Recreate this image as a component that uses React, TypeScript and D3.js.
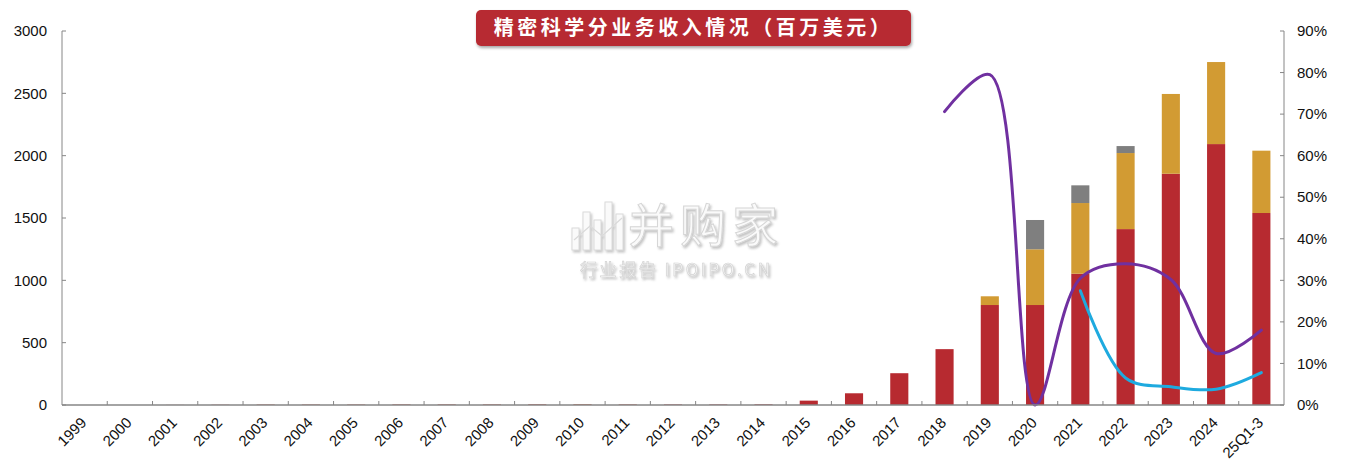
import React from "react";
import * as d3 from "d3";

const categories = ["1999","2000","2001","2002","2003","2004","2005","2006","2007","2008","2009","2010","2011","2012","2013","2014","2015","2016","2017","2018","2019","2020","2021","2022","2023","2024","25Q1-3"];
const seriesRed = [0,0,1,2,3,3,3,4,4,4,5,5,4,4,4,5,35,94,255,448,802,802,1053,1411,1855,2093,1540];
const seriesOrange = [0,0,0,0,1,1,1,1,1,1,1,2,1,0,0,0,0,0,0,0,70,447,567,610,640,658,500];
const seriesGray = [0,0,0,0,0,0,0,0,0,0,0,0,0,0,0,0,0,0,0,0,0,235,142,56,0,0,0];
const linePurple: (number | null)[] = [null,null,null,null,null,null,null,null,null,null,null,null,null,null,null,null,null,null,null,70.6,79.5,0,30.5,34.0,30.2,12.4,18.0];
const lineCyan: (number | null)[] = [null,null,null,null,null,null,null,null,null,null,null,null,null,null,null,null,null,null,null,null,null,null,27.5,6.5,4.4,3.8,7.8];
const leftTicks = [0,500,1000,1500,2000,2500,3000];
const rightTicks = [0,10,20,30,40,50,60,70,80,90];
const title = "精密科学分业务收入情况（百万美元）";

const W = 1353, H = 469;
const L = 62, R = 1284, T = 31, B = 405;
const RED = "#B72A30", ORANGE = "#D29B33", GRAY = "#7F7F7F", PURPLE = "#7030A0", CYAN = "#1EAADF";
const AXIS = "#868686";

export default function App() {
  const x = d3.scaleBand<string>().domain(categories).range([L, R]).paddingInner(0.6).paddingOuter(0.3);
  const xb = d3.scaleBand<string>().domain(categories).range([L, R]);
  const yL = d3.scaleLinear().domain([0, 3000]).range([B, T]);
  const yR = d3.scaleLinear().domain([0, 90]).range([B, T]);
  const stacked = categories.map((c, i) => {
    const a = seriesRed[i], b = seriesOrange[i], g = seriesGray[i];
    return [
      { c, y0: 0, y1: a, col: RED },
      { c, y0: a, y1: a + b, col: ORANGE },
      { c, y0: a + b, y1: a + b + g, col: GRAY },
    ];
  });
  const cx = (c: string) => (xb(c) as number) + xb.bandwidth() / 2;
  const mkLine = (vals: (number | null)[]) => {
    const pts = categories.map((c, i) => [c, vals[i]] as [string, number | null]).filter(d => d[1] !== null) as [string, number][];
    return d3.line<[string, number]>().x(d => cx(d[0])).y(d => yR(d[1])).curve(d3.curveCatmullRom.alpha(0.5))(pts) || "";
  };
  const font = "Arial, 'Liberation Sans', sans-serif";
  const barsH = [22, 38, 30, 48, 36];
  return (
    <svg width={W} height={H} style={{ position: "absolute", left: 0, top: 0, background: "#fff" }} fontFamily={font}>
      <defs>
        <filter id="sh" x="-10%" y="-30%" width="120%" height="170%">
          <feDropShadow dx="1" dy="2" stdDeviation="1.5" floodColor="#000" floodOpacity="0.35" />
        </filter>
        <filter id="wm" x="-10%" y="-10%" width="130%" height="140%">
          <feDropShadow dx="1.5" dy="2" stdDeviation="1.2" floodColor="#888" floodOpacity="0.55" />
        </filter>
      </defs>
      {/* watermark */}
      <g filter="url(#wm)" opacity={0.9}>
        {barsH.map((h, i) => (
          <rect key={i} x={572 + i * 11} y={250 - h} width={7} height={h} fill="#fafafa" stroke="#d6d6d6" strokeWidth={1} />
        ))}
        <polyline points="574,240 590,226 602,236 622,218" fill="none" stroke="#d6d6d6" strokeWidth={1.2} />
        <text x={628} y={242} fontSize={46} letterSpacing={6} fill="#fafafa" stroke="#d2d2d2" strokeWidth={1} fontFamily="'Noto Sans CJK SC', sans-serif" fontWeight={400}>并购家</text>
        <text x={580} y={276} fontSize={17} fill="#f6f6f6" stroke="#cfcfcf" strokeWidth={0.7} fontFamily="'Noto Sans CJK SC', sans-serif" textLength={190}>行业报告 IPOIPO.CN</text>
      </g>
      {/* bars */}
      {stacked.map((segs, i) => segs.filter(s => s.y1 > s.y0).map((s, j) => (
        <rect key={i + "-" + j} x={x(s.c)} width={x.bandwidth()} y={yL(s.y1)} height={yL(s.y0) - yL(s.y1)} fill={s.col} />
      )))}
      {/* lines */}
      <path d={mkLine(linePurple)} fill="none" stroke={PURPLE} strokeWidth={3} strokeLinecap="round" />
      <path d={mkLine(lineCyan)} fill="none" stroke={CYAN} strokeWidth={3} strokeLinecap="round" />
      {/* axes */}
      <line x1={L} x2={L} y1={T} y2={B} stroke={AXIS} strokeWidth={1} />
      <line x1={R} x2={R} y1={T} y2={B} stroke={AXIS} strokeWidth={1} />
      <line x1={L} x2={R} y1={B} y2={B} stroke={AXIS} strokeWidth={1.3} />
      {leftTicks.map(t => (
        <g key={"l" + t}>
          <line x1={L} x2={L + 4} y1={yL(t)} y2={yL(t)} stroke={AXIS} />
          <text x={47} y={yL(t)} dy="0.35em" textAnchor="end" fontSize={15} fill="#111">{t}</text>
        </g>
      ))}
      {rightTicks.map(t => (
        <g key={"r" + t}>
          <line x1={R - 4} x2={R} y1={yR(t)} y2={yR(t)} stroke={AXIS} />
          <text x={1297} y={yR(t)} dy="0.35em" textAnchor="start" fontSize={15} fill="#111">{t + "%"}</text>
        </g>
      ))}
      {categories.slice(1).map(c => (
        <line key={"t" + c} x1={xb(c)} x2={xb(c)} y1={B} y2={B - 4} stroke={AXIS} />
      ))}
      {categories.map(c => (
        <text key={"x" + c} transform={`translate(${cx(c) - 1},${B + 15}) rotate(-45)`} textAnchor="end" dy="0.35em" fontSize={15} fill="#111">{c}</text>
      ))}
      {/* title */}
      <rect x={476} y={10} width={435} height={36} rx={5} fill={RED} filter="url(#sh)" />
      <text x={693.5} y={28} dy="0.36em" textAnchor="middle" fontSize={20} letterSpacing={3.5} fill="#fff" fontWeight={700} fontFamily="'Noto Sans CJK SC', serif">{title}</text>
    </svg>
  );
}
